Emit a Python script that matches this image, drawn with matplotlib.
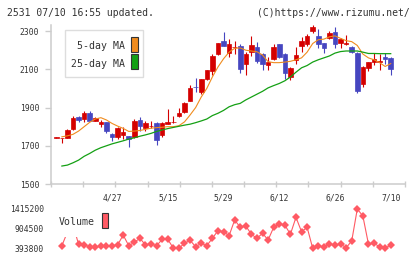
import numpy as np
import matplotlib
matplotlib.use("Agg")
import matplotlib.pyplot as plt
from matplotlib.patches import Rectangle

W, H = 420, 259
nan = np.nan

opens = [1743, 1740, 1742, 1786, 1850, 1840, 1871, 1831, 1814, 1823,
         1761, 1746, 1756, 1749, 1744, 1833, 1793, 1803, 1821, 1756,
         1814, 1822, 1856, 1878, 1936, 2010, 1983, 2047, 2092, 2178,
         2248, 2187, 2215, 2224, 2126, 2193, 2215, 2178, 2124, 2154,
         2232, 2180, 2062, 2148, 2224, 2230, 2302, 2274, 2236, 2263,
         2294, 2239, 2231, 2215, 2187, 2023, 2105, 2136, 2136, 2163,
         2157]
highs = [1746, 1742, 1786, 1855, 1857, 1883, 1881, 1848, 1833, 1825,
         1768, 1796, 1798, 1752, 1840, 1849, 1831, 1831, 1826, 1826,
         1890, 1855, 1896, 1930, 2018, 2056, 2052, 2098, 2180, 2240,
         2296, 2258, 2248, 2232, 2192, 2274, 2244, 2183, 2165, 2232,
         2235, 2185, 2113, 2215, 2267, 2284, 2331, 2309, 2240, 2302,
         2322, 2265, 2279, 2220, 2192, 2117, 2140, 2188, 2178, 2187,
         2163]
lows = [1742, 1713, 1740, 1784, 1826, 1822, 1828, 1828, 1800, 1765,
        1725, 1734, 1734, 1695, 1740, 1779, 1779, 1791, 1704, 1748,
        1812, 1817, 1849, 1873, 1934, 1983, 1972, 2045, 2070, 2176,
        2222, 2166, 2178, 2082, 2070, 2172, 2134, 2096, 2096, 2150,
        2157, 2049, 2044, 2129, 2189, 2224, 2289, 2210, 2185, 2258,
        2213, 2213, 2228, 2183, 1978, 2006, 2092, 2122, 2096, 2126,
        2070]
closes = [1745, 1741, 1784, 1847, 1835, 1871, 1831, 1845, 1824, 1777,
          1747, 1793, 1772, 1734, 1829, 1805, 1821, 1806, 1730, 1819,
          1826, 1825, 1873, 1922, 2002, 2005, 2049, 2096, 2169, 2236,
          2224, 2230, 2219, 2100, 2180, 2228, 2145, 2126, 2137, 2218,
          2162, 2082, 2108, 2174, 2248, 2274, 2319, 2232, 2213, 2289,
          2231, 2258, 2239, 2192, 1989, 2110, 2136, 2152, 2144, 2155,
          2100]
ma5 = [nan, 1747, 1752, 1760, 1777, 1800, 1823, 1840, 1847, 1835,
       1817, 1803, 1791, 1775, 1777, 1780, 1786, 1792, 1795, 1797,
       1800, 1800, 1805, 1825, 1861, 1900, 1955, 2000, 2060, 2112,
       2155, 2190, 2210, 2212, 2200, 2196, 2192, 2175, 2140, 2135,
       2135, 2138, 2142, 2150, 2160, 2190, 2235, 2255, 2258, 2270,
       2275, 2262, 2250, 2245, 2225, 2180, 2160, 2150, 2135, 2115,
       2130]
ma25 = [nan, 1594, 1599, 1611, 1625, 1645, 1660, 1677, 1690, 1700,
        1710, 1718, 1726, 1735, 1742, 1750, 1757, 1765, 1775, 1783,
        1790, 1796, 1802, 1808, 1813, 1821, 1830, 1840, 1858, 1870,
        1885, 1904, 1915, 1922, 1940, 1955, 1970, 1985, 2003, 2015,
        2026, 2040, 2060, 2085, 2108, 2120, 2138, 2150, 2160, 2170,
        2185, 2193, 2196, 2196, 2196, 2190, 2183, 2183, 2182, 2182,
        2182]
volume = [nan, 461000, 817000, 999000, 498000, 480000, 435000, 420000, 454000, 454000,
          461000, 480000, 739000, 461000, 550000, 654000, 480000, 506000, 461000, 628000,
          628000, 396000, 396000, 524000, 602000, 435000, 524000, 461000, 654000, 851000,
          825000, 721000, 1129000, 940000, 973000, 758000, 654000, 784000, 610000, 940000,
          1025000, 999000, 758000, 1199000, 825000, 940000, 393800, 461000, 420000, 506000,
          480000, 506000, 409000, 584000, 1415200, 1233000, 506000, 524000, 435000, 398000,
          480000]
x_label_idx = [10, 20, 30, 40, 50, 60]
x_labels = ["4/27", "5/15", "5/29", "6/12", "6/26", "7/10"]
y_ticks = [1500, 1700, 1900, 2100, 2300]
vol_ticks = [393800, 904500, 1415200]
vol_tick_labels = ["393800", "904500", "1415200"]

RED = "#d40000"
BLUE = "#4646c0"
ORANGE = "#f08c1e"
GREEN = "#14a014"
VOLC = "#ff5a64"
GRID = "#cccccc"
TXT = "#333333"
FONT = "DejaVu Sans Mono"
plt.rcParams["font.family"] = FONT

fig = plt.figure(figsize=(W / 100, H / 100), dpi=100)
fig.patch.set_facecolor("white")


def rect(l, t, r, b):
    return [l / W, 1 - b / H, (r - l) / W, (b - t) / H]


def fx(x):
    return x / W


def fy(y):
    return 1 - y / H


ax = fig.add_axes(rect(51, 25, 405, 184))
vax = fig.add_axes(rect(51, 205, 405, 252))

n = len(closes)
x = np.arange(n)
o = np.array(opens, float)
c = np.array(closes, float)
colors = [RED if cc >= oo else BLUE for oo, cc in zip(o, c)]

ax.vlines(x, lows, highs, colors=colors, linewidth=0.8, zorder=2)
ax.bar(x, np.abs(c - o), bottom=np.minimum(o, c), width=0.82,
       color=colors, edgecolor=colors, linewidth=0.5, zorder=3)
ax.plot(x, ma5, color=ORANGE, linewidth=0.8, zorder=4)
ax.plot(x, ma25, color=GREEN, linewidth=0.9, zorder=4)

xlim = (-0.95, 62.56)
ax.set_xlim(*xlim)
ax.set_ylim(1500, 2332)
for s in ["top", "right"]:
    ax.spines[s].set_visible(False)
for s in ["left", "bottom"]:
    ax.spines[s].set_color(GRID)
    ax.spines[s].set_linewidth(1.1)
ax.set_yticks(y_ticks)
ax.set_yticklabels([str(v) for v in y_ticks])
ax.tick_params(axis="y", direction="out", length=4.3, width=1.0, color=GRID,
               pad=4.1, labelsize=5.8, labelcolor=TXT)
ax.set_xticks(x_label_idx)
ax.set_xticklabels(x_labels)
ax.tick_params(axis="x", which="major", length=0, pad=6.6, labelsize=5.8,
               labelcolor=TXT)
ax.set_xticks(np.linspace(xlim[0], xlim[1], 12), minor=True)
ax.tick_params(axis="x", which="minor", direction="inout", length=4.8,
               width=1.0, color=GRID)
ax.set_facecolor("white")

# volume panel
vax.plot(x, volume, color=VOLC, linewidth=0.8, marker="D", markersize=4.2,
         markeredgewidth=0, zorder=2)
vax.set_xlim(*xlim)
vax.set_ylim(297600, 1519000)
for s in vax.spines.values():
    s.set_visible(False)
vax.set_xticks([])
vax.set_yticks(vol_ticks)
vax.set_yticklabels(vol_tick_labels)
vax.tick_params(axis="y", length=0, pad=5.0, labelsize=5.8, labelcolor=TXT)
vax.patch.set_alpha(0)

# main legend
fig.patches.append(Rectangle((fx(65.3), fy(77.3)), fx(143.3) - fx(65.3), fy(30) - fy(77.3),
                             transform=fig.transFigure, facecolor="white",
                             edgecolor="#dddddd", linewidth=1.0, zorder=5))
fig.text(fx(125), fy(46.2), "5-day MA", ha="right", va="center", fontsize=7.1,
         color=TXT, zorder=6)
fig.text(fx(125), fy(63.7), "25-day MA", ha="right", va="center", fontsize=7.1,
         color=TXT, zorder=6)
fig.patches.append(Rectangle((fx(131.2), fy(52.3)), fx(137.7) - fx(131.2), fy(36.7) - fy(52.3),
                             transform=fig.transFigure, facecolor=ORANGE,
                             edgecolor="#333333", linewidth=0.8, zorder=6))
fig.patches.append(Rectangle((fx(131.2), fy(69.3)), fx(137.7) - fx(131.2), fy(54) - fy(69.3),
                             transform=fig.transFigure, facecolor=GREEN,
                             edgecolor="#333333", linewidth=0.8, zorder=6))

# volume legend
fig.patches.append(Rectangle((fx(55), fy(237)), fx(112) - fx(55), fy(209) - fy(237),
                             transform=fig.transFigure, facecolor="white",
                             edgecolor="none", linewidth=0, zorder=5))
fig.text(fx(59), fy(221.7), "Volume", ha="left", va="center", fontsize=7.1,
         color=TXT, zorder=6)
fig.patches.append(Rectangle((fx(101.7), fy(228.3)), fx(108.3) - fx(101.7), fy(213) - fy(228.3),
                             transform=fig.transFigure, facecolor=VOLC,
                             edgecolor="#333333", linewidth=0.8, zorder=6))

# header
fig.text(fx(7.3), fy(12.5), "2531 07/10 16:55 updated.", ha="left", va="center",
         fontsize=7.0, color=TXT)
fig.text(fx(410), fy(12.5), "(C)https://www.rizumu.net/", ha="right", va="center",
         fontsize=7.0, color=TXT)

fig.savefig("out.png", dpi=100, facecolor="white")
